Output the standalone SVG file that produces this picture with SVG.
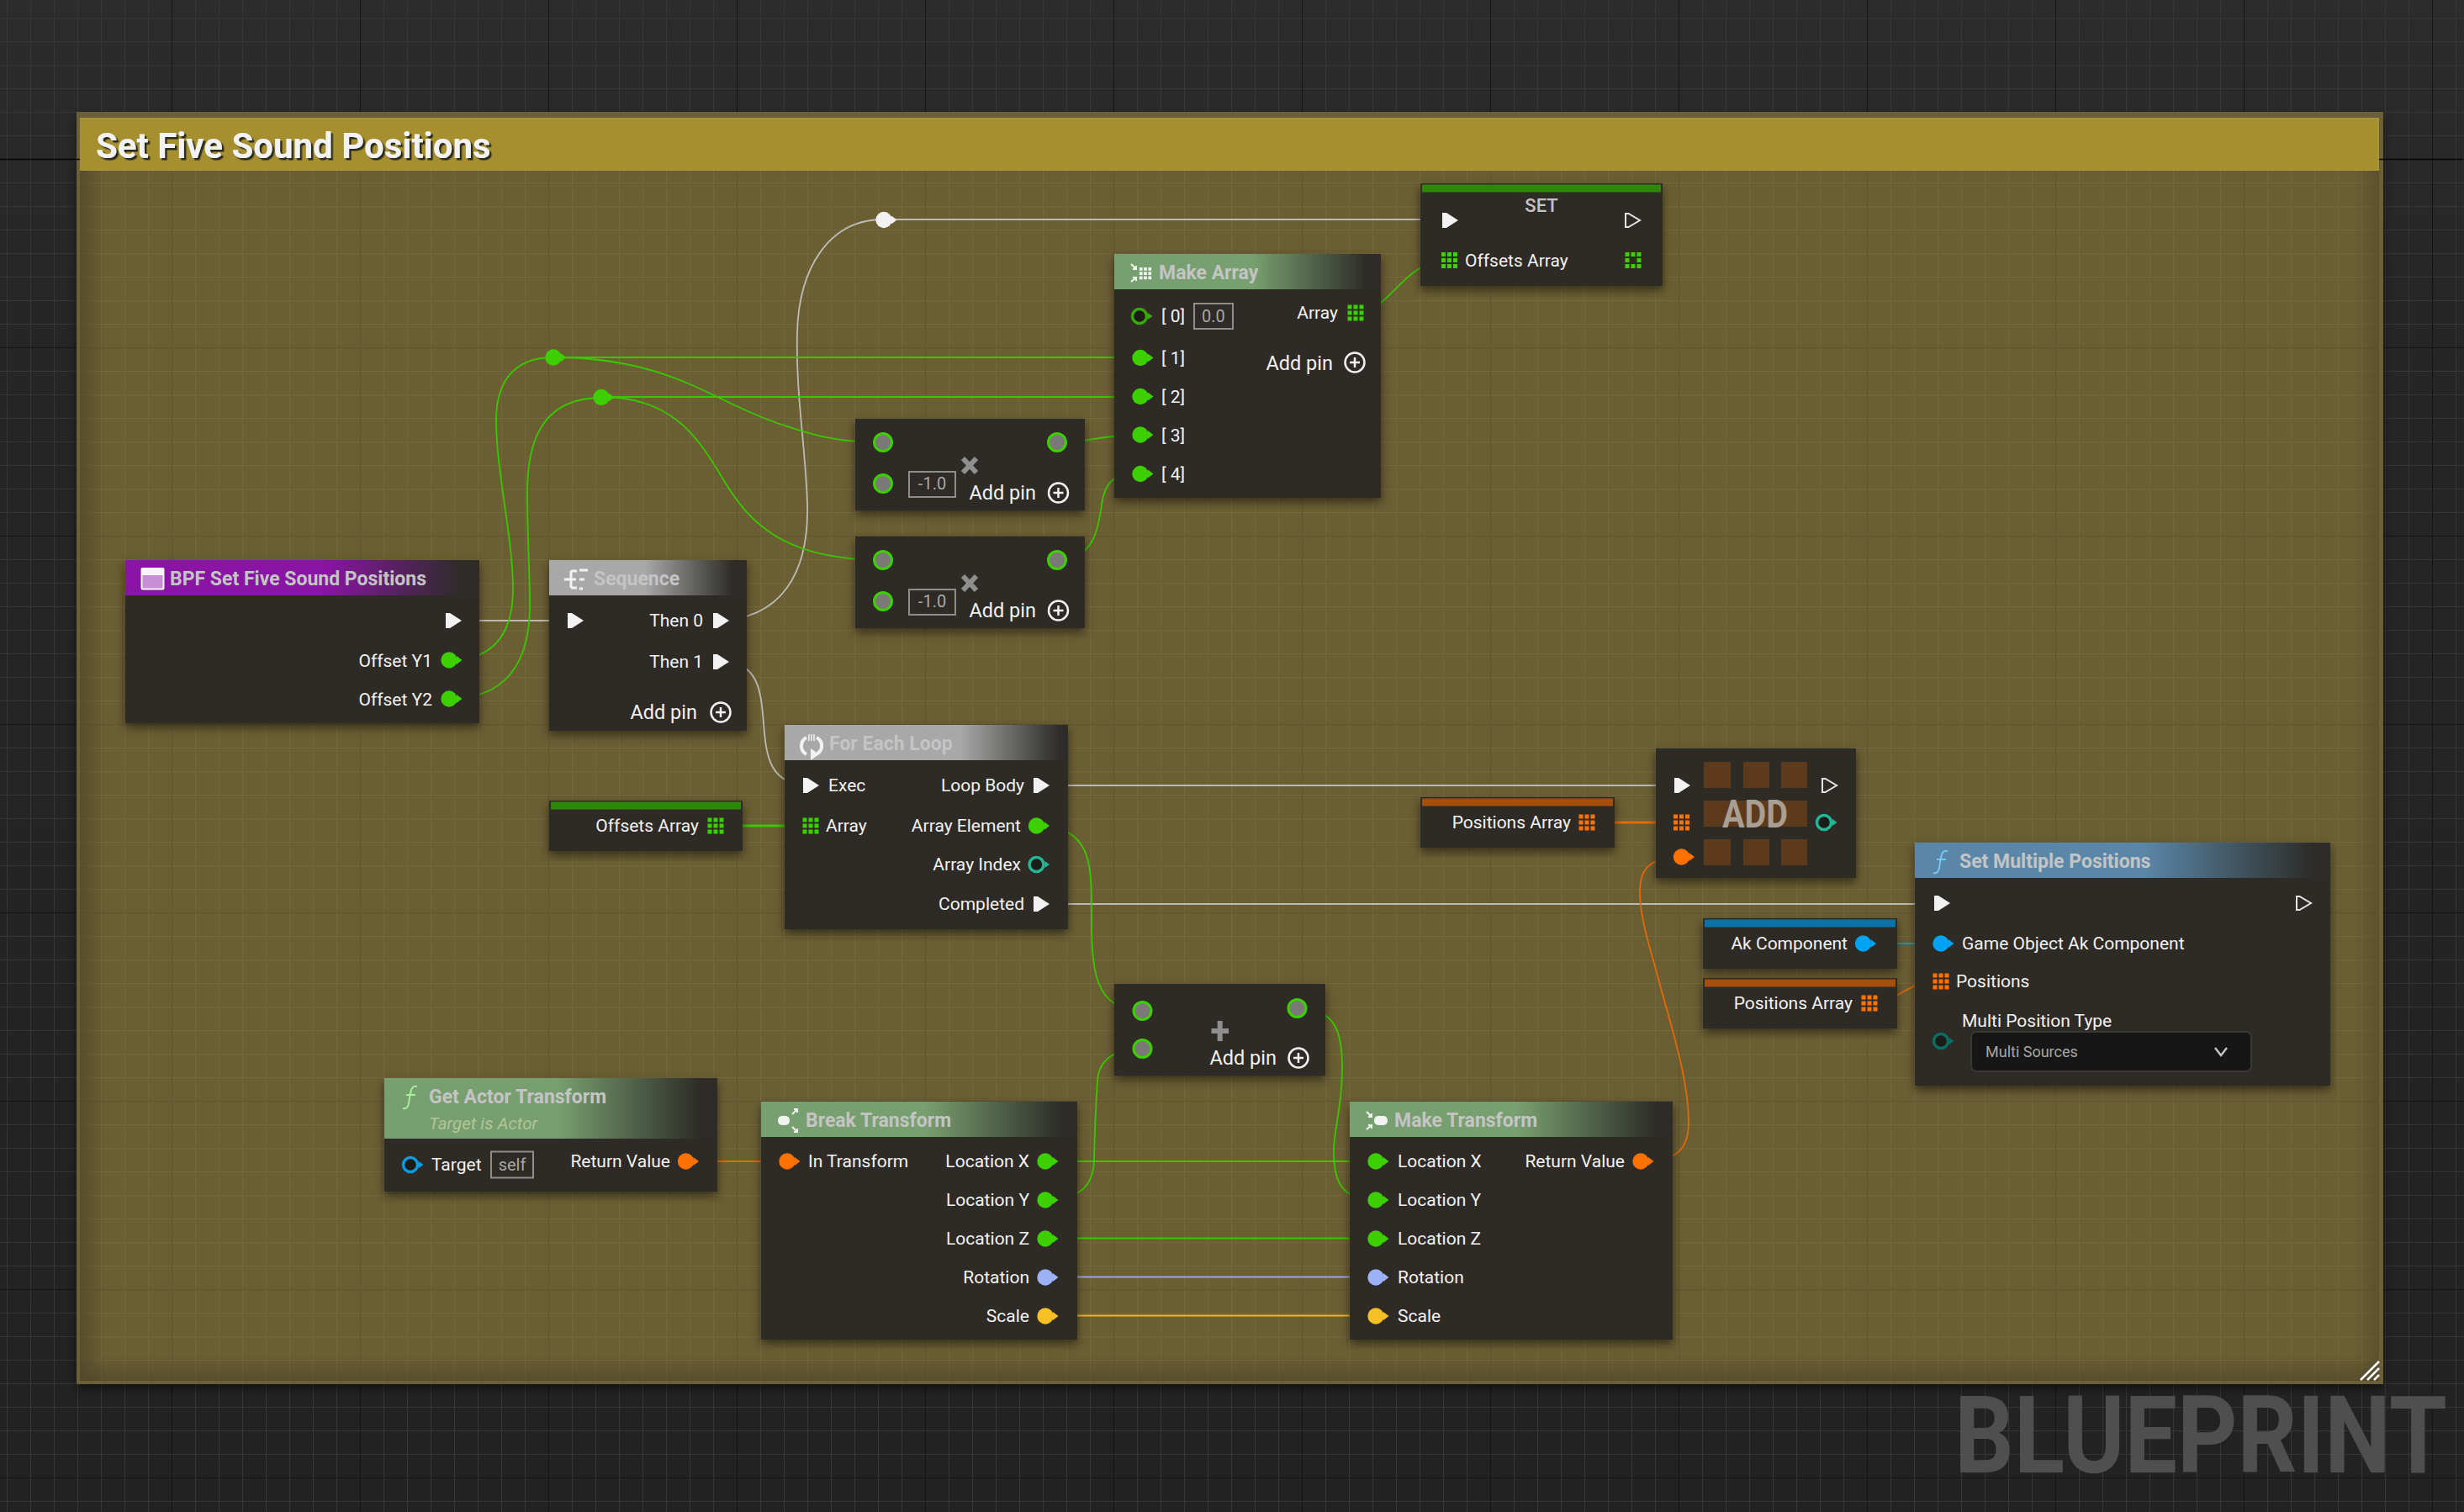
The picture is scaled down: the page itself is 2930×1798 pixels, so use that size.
<svg xmlns="http://www.w3.org/2000/svg" width="2930" height="1798" viewBox="0 0 2930 1798">
<style>
text{font-family:Roboto,"Liberation Sans",sans-serif;fill:#f2f2f2;font-size:21px}
.r{text-anchor:end}
.m{text-anchor:middle}
.h{font-size:23px;font-weight:700;fill:#c4c4c4}
.ap{font-size:23.500px;text-anchor:end}
.v{font-size:20px;fill:#a8a8a8;text-anchor:middle}
.b{fill:#2d2c28}
.n{filter:url(#sh)}
.box{fill:none;stroke:#8e8e8a;stroke-width:2}
.w{fill:none;stroke-width:1.800}
.wg{stroke:#38c800}
.wt{stroke:#bcbcb6}
.wo{stroke:#e36a08}
.g{color:#3dd000}
.o{color:#ff7200}
.a{color:#00a2f2}
.gd{color:#38a70a}
.tl{color:#22b896}
.td{color:#0e6d62}
.bl{color:#0a9be0}
.vi{color:#9db2f5}
.y{color:#f7c126}
.wh{color:#f2f2f2}
.xi{stroke:#8f8f8f;stroke-width:6;fill:none}
.ic{fill:none;stroke:#f2f2f2;stroke-width:2.500}
</style>
<defs>
<pattern id="gridBg" patternUnits="userSpaceOnUse" x="204" y="189" width="224" height="224">
<path d="M0 28.500H224M0 56.500H224M0 84.500H224M0 112.500H224M0 140.500H224M0 168.500H224M0 196.500H224M28.500 0V224M56.500 0V224M84.500 0V224M112.500 0V224M140.500 0V224M168.500 0V224M196.500 0V224" stroke="#363636" stroke-width="1" fill="none"/>
<path d="M0 .5H224M.5 0V224" stroke="#151515" stroke-width="1" fill="none"/>
</pattern>
<pattern id="gridFr" patternUnits="userSpaceOnUse" x="204" y="189" width="224" height="224">
<path d="M0 28.500H224M0 56.500H224M0 84.500H224M0 112.500H224M0 140.500H224M0 168.500H224M0 196.500H224M28.500 0V224M56.500 0V224M84.500 0V224M112.500 0V224M140.500 0V224M168.500 0V224M196.500 0V224" stroke="#75683c" stroke-width="1" fill="none"/>
<path d="M0 .5H224M.5 0V224" stroke="#5f5430" stroke-width="1" fill="none"/>
</pattern>
<linearGradient id="bgG" x1="0" y1="0" x2="0" y2="1"><stop offset="0" stop-color="#2c2c2c"/><stop offset=".2" stop-color="#262626"/><stop offset="1" stop-color="#222"/></linearGradient>
<linearGradient id="fl" x1="0" y1="0" x2="1" y2="0"><stop offset="0" stop-color="#4a412a" stop-opacity=".6"/><stop offset="1" stop-color="#4a412a" stop-opacity="0"/></linearGradient>
<linearGradient id="fr" x1="1" y1="0" x2="0" y2="0"><stop offset="0" stop-color="#4a412a" stop-opacity=".45"/><stop offset="1" stop-color="#4a412a" stop-opacity="0"/></linearGradient>
<linearGradient id="fb" x1="0" y1="1" x2="0" y2="0"><stop offset="0" stop-color="#4a412a" stop-opacity=".55"/><stop offset="1" stop-color="#4a412a" stop-opacity="0"/></linearGradient>
<linearGradient id="hP"><stop offset=".56" stop-color="#8a14a4"/><stop offset=".95" stop-color="#2d2c28"/></linearGradient>
<linearGradient id="hW"><stop offset=".48" stop-color="#a8a8a8"/><stop offset=".93" stop-color="#2d2c28"/></linearGradient>
<linearGradient id="hW2"><stop offset=".62" stop-color="#a8a8a8"/><stop offset=".97" stop-color="#2d2c28"/></linearGradient>
<linearGradient id="hG"><stop offset=".52" stop-color="#789f6f"/><stop offset=".95" stop-color="#2d2c28"/></linearGradient>
<linearGradient id="hB"><stop offset=".55" stop-color="#5a87a8"/><stop offset=".96" stop-color="#2d2c28"/></linearGradient>
<filter id="sh" x="-15%" y="-15%" width="130%" height="135%"><feDropShadow dx="0" dy="5" stdDeviation="6" flood-color="#000" flood-opacity=".5"/></filter>
<filter id="ts" x="-5%" y="-10%" width="110%" height="130%"><feDropShadow dx="2.500" dy="2.500" stdDeviation="0.300" flood-color="#2c2a1c" flood-opacity="1"/></filter>
<g id="pin"><circle r="9.700" fill="currentColor"/><path d="M9 -5L15.500 0L9 5Z" fill="currentColor"/></g>
<g id="ring"><circle r="8.500" fill="#1b1b18" stroke="currentColor" stroke-width="3.500"/><path d="M10 -4L15.500 0L10 4Z" fill="currentColor"/></g>
<g id="gp"><circle r="10.500" fill="#7b7878" stroke="#3dd000" stroke-width="3"/></g>
<g id="ex"><path d="M-9 -9H-4L10 0L-4 9H-9Z" fill="#f2f2f2"/></g>
<g id="exo"><path d="M-8 -8H-4.500L9 0L-4.500 8H-8Z" fill="none" stroke="#e4e4e4" stroke-width="2"/></g>
<g id="arr"><path fill="currentColor" d="M-9.500 -9.500h5v5h-5zM-2.500 -9.500h5v5h-5zM4.500 -9.500h5v5h-5zM-9.500 -2.500h5v5h-5zM-2.500 -2.500h5v5h-5zM4.500 -2.500h5v5h-5zM-9.500 4.500h5v5h-5zM-2.500 4.500h5v5h-5zM4.500 4.500h5v5h-5z"/></g>
<g id="arh"><path fill="currentColor" d="M-9.500 -9.500h5v5h-5zM-2.500 -9.500h5v5h-5zM4.500 -9.500h5v5h-5zM-9.500 -2.500h5v5h-5zM4.500 -2.500h5v5h-5zM-9.500 4.500h5v5h-5zM-2.500 4.500h5v5h-5zM4.500 4.500h5v5h-5z"/></g>
<g id="add"><circle r="11.500" fill="none" stroke="#f2f2f2" stroke-width="2.500"/><path d="M-6 0H6M0 -6V6" stroke="#f2f2f2" stroke-width="2.500"/></g>
<g id="fic"><path d="M7 -13C2 -14 0 -11 -1 -5L-3 7C-4 12 -6 14 -10 13M-6 -3H5" fill="none" stroke="currentColor" stroke-width="2"/></g>
</defs>

<g id="background">
<rect width="2930" height="1798" fill="url(#bgG)"/>
<rect width="2930" height="1798" fill="url(#gridBg)"/>
<text transform="translate(2324 1751) scale(.868 1)" x="0" y="0" style="font-size:128px;font-weight:700;fill:#4f4f4f">BLUEPRINT</text>
</g>

<g id="comment-frame">
<rect x="91" y="133" width="2743" height="1513" fill="#6b5f38" filter="url(#sh)"/>
<rect x="95" y="140" width="2734" height="1502" fill="#6b5e33"/>
<rect x="95" y="140" width="2734" height="1502" fill="url(#gridFr)"/>
<rect x="95" y="203" width="30" height="1439" fill="url(#fl)"/>
<rect x="2799" y="203" width="30" height="1439" fill="url(#fr)"/>
<rect x="95" y="1612" width="2734" height="30" fill="url(#fb)"/>
<rect x="95" y="140" width="2734" height="63" fill="#a68f2f"/>
<path d="M95 141H2829M2828 140V203M95 202H2829" stroke="#b29c3c" stroke-width="1.500" fill="none" opacity=".5"/>
<path d="M0 189.500H95M2829 189.500H2928" stroke="#060606" stroke-width="1.500" fill="none"/>
<text x="114" y="187.500" style="font-size:42px;font-weight:700;filter:url(#ts)">Set Five Sound Positions</text>
<path d="M2807 1641L2829 1619M2815 1641L2829 1627M2823 1641L2829 1635" stroke="#fff" stroke-width="2.500" fill="none"/>
</g>

<g id="connectors">
<path class="w wt" d="M540 738H683"/>
<path class="w wt" d="M850 738C930 738 962 680 960 600C958 530 946 470 948 395C950 320 985 261 1050 261H1724"/>
<path class="w wt" d="M860 787C905 787 905 830 908 860C911 900 915 934 964 934"/>
<path class="w wt" d="M1238 934H2000"/>
<path class="w wt" d="M1238 1075H2309"/>
<path class="w wg" d="M534 785C590 785 610 750 610 700C610 640 590 560 590 500C590 455 610 425 658 425"/>
<path class="w wg" d="M534 831C600 831 630 790 630 720C630 680 627 640 627 585C627 510 655 473 715 473"/>
<path class="w wg" d="M658 425H1356"/>
<path class="w wg" d="M715 472H1356"/>
<path class="w wg" d="M658 425C800 425 850 480 930 505C960 515 990 526 1050 526"/>
<path class="w wg" d="M715 472C800 472 830 520 860 570C890 620 930 666 1050 666"/>
<path class="w wg" d="M1257 526C1295 526 1310 517 1356 517"/>
<path class="w wg" d="M1257 666C1300 666 1306 630 1310 600C1314 575 1320 564 1356 564"/>
<path class="w wg" d="M1612 372C1655 372 1665 310 1723 310"/>
<path class="w wg" style="stroke-width:3" d="M851 982H964"/>
<path class="w wg" d="M1232 982C1300 982 1298 1030 1298 1090C1298 1150 1300 1202 1358 1202"/>
<path class="w wg" d="M1243 1426C1285 1426 1300 1410 1301 1380C1302 1330 1304 1300 1305 1285C1306 1265 1320 1247 1358 1247"/>
<path class="w wg" d="M1543 1199C1590 1199 1596 1230 1596 1270C1596 1320 1586 1340 1586 1370C1586 1400 1592 1427 1636 1427"/>
<path class="w wg" d="M1243 1381H1636"/>
<path class="w wg" d="M1243 1472.500H1636"/>
<path class="w" stroke="#92a8e8" d="M1243 1518.500H1636"/>
<path class="w" stroke="#f2b71e" d="M1243 1564.500H1636"/>
<path class="w wo" d="M815 1381H936"/>
<path class="w wo" d="M1951 1381C1990 1381 2008 1370 2008 1335C2008 1280 1985 1215 1971 1160C1960 1120 1950 1090 1950 1060C1950 1040 1955 1019 2000 1019"/>
<path class="w wo" style="stroke-width:3" d="M1900 978H2000"/>
<path class="w" stroke="#0a9bd6" d="M2216 1122H2308"/>
<path class="w wo" d="M2223 1193C2260 1193 2262 1167 2308 1167"/>
</g>

<g id="knots" class="g">
<use href="#pin" x="658" y="425"/>
<use href="#pin" x="715" y="472.500"/>
<use href="#pin" x="1051" y="261.500" class="wh"/>
</g>

<g id="bpf-node">
<rect class="b n" x="149" y="666" width="421" height="194"/>
<rect x="149" y="666" width="421" height="42" fill="url(#hP)"/>
<rect x="168.500" y="676" width="26" height="24.500" rx="1" fill="#c78fd6" stroke="#f6f6f6" stroke-width="2"/>
<rect x="168.500" y="676" width="26" height="8" fill="#f6f6f6"/>
<text class="h" x="202" y="696">BPF Set Five Sound Positions</text>
<use href="#ex" x="539" y="738"/>
<text class="r" x="514" y="792.500">Offset Y1</text><use href="#pin" class="g" x="534" y="785"/>
<text class="r" x="514" y="838.500">Offset Y2</text><use href="#pin" class="g" x="534" y="831"/>
</g>

<g id="sequence-node">
<rect class="b n" x="653" y="666" width="235" height="203"/>
<rect x="653" y="666" width="235" height="42" fill="url(#hW)"/>
<path d="M671 689H685M679 679V699M679 679H686M679 699H686M689 678H699M689 689H695M689 700H693" stroke="#f2f2f2" stroke-width="3" fill="none"/>
<text class="h" x="706" y="696">Sequence</text>
<use href="#ex" x="684" y="738"/>
<text class="r" x="836" y="745">Then 0</text><use href="#ex" x="857" y="738"/>
<text class="r" x="836" y="794">Then 1</text><use href="#ex" x="857" y="787"/>
<text class="ap" x="829" y="855">Add pin</text><use href="#add" x="857" y="847"/>
</g>

<g id="multiply-node-1">
<rect class="b n" x="1017" y="498" width="273" height="109"/>
<use href="#gp" x="1050" y="526"/><use href="#gp" x="1050" y="575"/><use href="#gp" x="1257" y="526"/>
<rect class="box" x="1081" y="561" width="55" height="30"/>
<text class="v" x="1108.500" y="582">-1.0</text>
<path class="xi" d="M1145 545L1161 562M1161 545L1145 562"/>
<text class="ap" x="1232" y="594">Add pin</text><use href="#add" x="1258.500" y="586"/>
</g>

<g id="multiply-node-2">
<rect class="b n" x="1017" y="638" width="273" height="109"/>
<use href="#gp" x="1050" y="666"/><use href="#gp" x="1050" y="715"/><use href="#gp" x="1257" y="666"/>
<rect class="box" x="1081" y="701" width="55" height="30"/>
<text class="v" x="1108.500" y="722">-1.0</text>
<path class="xi" d="M1145 685L1161 702M1161 685L1145 702"/>
<text class="ap" x="1232" y="734">Add pin</text><use href="#add" x="1258.500" y="726"/>
</g>

<g id="make-array-node">
<rect class="b n" x="1325" y="302" width="317" height="290"/>
<rect x="1325" y="302" width="317" height="42" fill="url(#hG)"/>
<path d="M1345 314L1351 320M1351 316V320H1347M1345 335L1351 330M1347 330H1351V334" stroke="#f2f2f2" stroke-width="2" fill="none"/>
<use href="#arr" class="wh" transform="translate(1362 325) scale(.75)"/>
<text class="h" x="1378" y="331.500">Make Array</text>
<use href="#ring" class="gd" x="1355" y="376"/>
<text x="1381" y="383">[ 0]</text>
<rect class="box" x="1420" y="361" width="46" height="30"/>
<text class="v" x="1443" y="383">0.0</text>
<text class="r" x="1591" y="379">Array</text><use href="#arr" class="g" x="1612" y="372"/>
<text class="ap" x="1585" y="440">Add pin</text><use href="#add" x="1611" y="431"/>
<use href="#pin" class="g" x="1356" y="425.500"/><text x="1381" y="433">[ 1]</text>
<use href="#pin" class="g" x="1356" y="471.500"/><text x="1381" y="479">[ 2]</text>
<use href="#pin" class="g" x="1356" y="517"/><text x="1381" y="524.500">[ 3]</text>
<use href="#pin" class="g" x="1356" y="563.500"/><text x="1381" y="571">[ 4]</text>
</g>

<g id="set-node">
<rect class="b n" x="1689" y="218" width="288" height="122"/>
<rect x="1691" y="219.500" width="284" height="9" fill="#2f8709"/>
<text class="m" x="1833" y="252" style="font-size:22px;font-weight:500;fill:#c4c4c4">SET</text>
<use href="#ex" x="1724" y="262"/><use href="#exo" x="1941" y="262"/>
<use href="#arr" class="g" x="1723.500" y="309.500"/>
<text x="1742" y="317">Offsets Array</text>
<use href="#arh" class="g" x="1942" y="309.500"/>
</g>

<g id="for-each-node">
<rect class="b n" x="933" y="862" width="337" height="243"/>
<rect x="933" y="862" width="337" height="42" fill="url(#hW2)"/>
<path d="M959 877C951 881 951 893 959 897M971 877C979 881 979 892 972 896" class="ic" style="stroke-width:4"/>
<path d="M962 873V881M965 873V881M968 873V881" class="ic" style="stroke-width:1.500"/>
<path d="M964 890V904L974 897Z" fill="#f2f2f2"/>
<text class="h" x="986" y="892">For Each Loop</text>
<use href="#ex" x="964" y="934"/><text x="985" y="941">Exec</text>
<use href="#arr" class="g" x="964" y="982"/><text x="982" y="989">Array</text>
<text class="r" x="1218" y="941">Loop Body</text><use href="#ex" x="1238" y="934"/>
<text class="r" x="1214" y="989">Array Element</text><use href="#pin" class="g" x="1232.500" y="982"/>
<text class="r" x="1214" y="1035">Array Index</text><use href="#ring" class="tl" x="1232.500" y="1028"/>
<text class="r" x="1218" y="1082">Completed</text><use href="#ex" x="1238" y="1075"/>
</g>

<g id="offsets-getter">
<rect class="b n" x="653" y="952" width="230" height="60"/>
<rect x="655" y="953.500" width="226" height="9" fill="#2f8709"/>
<text class="r" x="831" y="989">Offsets Array</text><use href="#arr" class="g" x="851" y="982"/>
</g>

<g id="positions-getter-top">
<rect class="b n" x="1689" y="948" width="231" height="60"/>
<rect x="1691" y="949.500" width="227" height="9" fill="#a64f0c"/>
<text class="r" x="1868" y="985">Positions Array</text><use href="#arr" class="o" x="1887" y="978"/>
</g>

<g id="add-node">
<rect class="b n" x="1969" y="890" width="238" height="154"/>
<path fill="#5d3a1c" d="M2026 906h32v31h-32zM2073 906h31v31h-31zM2118 906h31v31h-31zM2026 952h123v31h-123zM2026 998h32v31h-32zM2073 998h31v31h-31zM2118 998h31v31h-31z"/>
<text x="2048" y="984" textLength="78" lengthAdjust="spacingAndGlyphs" style="font-size:46px;font-weight:700;fill:#a89e94">ADD</text>
<use href="#ex" x="2000" y="934"/><use href="#exo" x="2175" y="934"/>
<use href="#arr" class="o" x="1999.500" y="978"/>
<use href="#ring" class="tl" x="2169" y="978"/>
<use href="#pin" class="o" x="1999.500" y="1019"/>
</g>

<g id="set-multiple-positions-node">
<rect class="b n" x="2277" y="1002" width="494" height="289"/>
<rect x="2277" y="1002" width="494" height="42" fill="url(#hB)"/>
<use href="#fic" x="2309" y="1025" style="color:#77c6f4"/>
<text class="h" x="2330" y="1031.500">Set Multiple Positions</text>
<use href="#ex" x="2309" y="1074"/><use href="#exo" x="2739" y="1074"/>
<use href="#pin" class="a" x="2308" y="1122"/><text x="2333" y="1129">Game Object Ak Component</text>
<use href="#arr" class="o" x="2308" y="1167"/><text x="2326" y="1174">Positions</text>
<text x="2333" y="1221">Multi Position Type</text>
<use href="#ring" class="td" x="2308" y="1238"/>
<rect x="2344" y="1227" width="333" height="47" rx="6" fill="#161616" stroke="#383835" stroke-width="2"/>
<text x="2361" y="1257" style="font-size:18px;fill:#a6a6a6">Multi Sources</text>
<path d="M2634 1246L2641 1255L2648 1246" fill="none" stroke="#c4c4c4" stroke-width="2.500"/>
</g>

<g id="ak-component-getter">
<rect class="b n" x="2025" y="1092" width="231" height="60"/>
<rect x="2027" y="1093.500" width="227" height="9" fill="#0b72a8"/>
<text class="r" x="2197" y="1129">Ak Component</text><use href="#pin" class="a" x="2215.500" y="1122"/>
</g>

<g id="positions-getter-bottom">
<rect class="b n" x="2025" y="1163" width="231" height="60"/>
<rect x="2027" y="1164.500" width="227" height="9" fill="#a64f0c"/>
<text class="r" x="2203" y="1200">Positions Array</text><use href="#arr" class="o" x="2223" y="1193"/>
</g>

<g id="add-float-node">
<rect class="b n" x="1325" y="1170" width="251" height="109"/>
<use href="#gp" x="1358.500" y="1202"/><use href="#gp" x="1358.500" y="1247"/><use href="#gp" x="1542.500" y="1199"/>
<path class="xi" d="M1440.500 1226H1461M1450.700 1214V1238"/>
<text class="ap" x="1518" y="1266">Add pin</text><use href="#add" x="1544" y="1258"/>
</g>

<g id="get-actor-transform-node">
<rect class="b n" x="457" y="1282" width="396" height="135"/>
<rect x="457" y="1282" width="396" height="72" fill="url(#hG)"/>
<use href="#fic" x="489" y="1305" style="color:#a7ef9b"/>
<text class="h" x="510" y="1311.500">Get Actor Transform</text>
<text x="510" y="1342.500" style="font-size:20.500px;font-style:italic;fill:#b3c497">Target is Actor</text>
<use href="#ring" class="bl" x="488" y="1385"/>
<text x="513" y="1392">Target</text>
<rect class="box" x="584" y="1369.500" width="50" height="31"/>
<text class="v" x="609" y="1392">self</text>
<text class="r" x="797" y="1388">Return Value</text><use href="#pin" class="o" x="815.500" y="1381"/>
</g>

<g id="break-transform-node">
<rect class="b n" x="905" y="1310" width="376" height="283"/>
<rect x="905" y="1310" width="376" height="42" fill="url(#hG)"/>
<rect x="925" y="1327" width="14" height="11" rx="5" fill="#f2f2f2"/>
<path d="M942 1325L948 1319M944 1319H948V1323M942 1340L948 1346M948 1342V1346H944" stroke="#f2f2f2" stroke-width="2" fill="none"/>
<text class="h" x="958" y="1340">Break Transform</text>
<use href="#pin" class="o" x="936" y="1381"/><text x="961" y="1388">In Transform</text>
<text class="r" x="1224" y="1388">Location X</text><use href="#pin" class="g" x="1243" y="1381"/>
<text class="r" x="1224" y="1434">Location Y</text><use href="#pin" class="g" x="1243" y="1427"/>
<text class="r" x="1224" y="1480">Location Z</text><use href="#pin" class="g" x="1243" y="1473"/>
<text class="r" x="1224" y="1526">Rotation</text><use href="#pin" class="vi" x="1243" y="1519"/>
<text class="r" x="1224" y="1572">Scale</text><use href="#pin" class="y" x="1243" y="1565"/>
</g>

<g id="make-transform-node">
<rect class="b n" x="1605" y="1310" width="384" height="283"/>
<rect x="1605" y="1310" width="384" height="42" fill="url(#hG)"/>
<path d="M1625 1322L1631 1328M1631 1324V1328H1627M1625 1343L1631 1338M1627 1338H1631V1342" stroke="#f2f2f2" stroke-width="2" fill="none"/>
<rect x="1634" y="1327" width="16" height="11" rx="5" fill="#f2f2f2"/>
<text class="h" x="1658" y="1340">Make Transform</text>
<use href="#pin" class="g" x="1636" y="1381"/><text x="1662" y="1388">Location X</text>
<use href="#pin" class="g" x="1636" y="1427"/><text x="1662" y="1434">Location Y</text>
<use href="#pin" class="g" x="1636" y="1473"/><text x="1662" y="1480">Location Z</text>
<use href="#pin" class="vi" x="1636" y="1519"/><text x="1662" y="1526">Rotation</text>
<use href="#pin" class="y" x="1636" y="1565"/><text x="1662" y="1572">Scale</text>
<text class="r" x="1932" y="1388">Return Value</text><use href="#pin" class="o" x="1951" y="1381"/>
</g>
</svg>
